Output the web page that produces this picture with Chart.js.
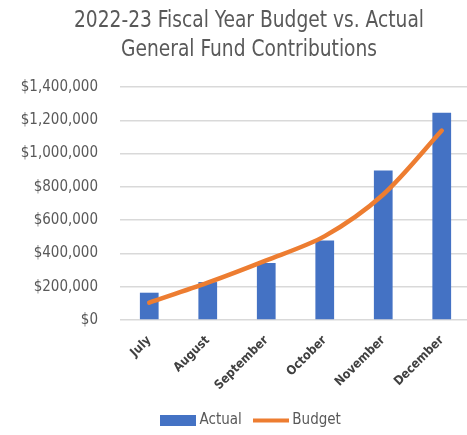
<!DOCTYPE html>
<html>
<head>
<meta charset="utf-8">
<script src="https://cdn.jsdelivr.net/npm/chart.js@4/dist/chart.umd.min.js"></script>
<style>
  body { margin: 0; background: #fff; overflow: hidden; }
  #wrap { width: 467px; height: 435px; overflow: hidden; }
</style>
</head>
<body>
<div id="wrap"><canvas id="chart" width="471" height="435"></canvas></div>
<script>
        // Dados do gráfico
        const months = ['July', 'August', 'September', 'October', 'November', 'December'];
        const actual = [164000, 228000, 342000, 478000, 898000, 1246000];
        const budget = [104000, 224000, 358000, 504000, 754000, 1138000];
        const titleLines = ['2022-23 Fiscal Year Budget vs. Actual', 'General Fund Contributions'];

        const FONT = '"DejaVu Sans Condensed", "DejaVu Sans", sans-serif';
        const BLUE = '#4472C4';
        const ORANGE = '#ED7D31';
        const GRAY = '#595959';

        // Marcadores da legenda
        function legendSwatch(color, h) {
            const c = document.createElement('canvas');
            c.width = 36;
            c.height = 11;
            const g = c.getContext('2d');
            g.fillStyle = color;
            g.fillRect(0, (11 - h) / 2, 36, h);
            return c;
        }
        const swatches = [legendSwatch(BLUE, 11), legendSwatch(ORANGE, 4)];

        // Título estreito (fonte condensada como no original)
        const narrowTitle = {
            id: 'narrowTitle',
            afterDraw(chart) {
                const ctx = chart.ctx;
                ctx.save();
                ctx.fillStyle = GRAY;
                ctx.font = '23px ' + FONT;
                ctx.textAlign = 'center';
                ctx.textBaseline = 'alphabetic';
                const sx = 350 / ctx.measureText(titleLines[0]).width;
                ctx.translate(249, 0);
                ctx.scale(sx, 1);
                ctx.fillText(titleLines[0], 0, 27);
                ctx.fillText(titleLines[1], 0, 56);
                ctx.restore();
            }
        };

        // Legenda: altura fixa e posição como no original
        const legendTweak = {
            id: 'legendTweak',
            beforeLayout(chart) {
                const lg = chart.legend;
                if (lg && !lg._tweaked) {
                    const fit = lg.fit.bind(lg);
                    lg.fit = function () { fit(); this.height = 33; };
                    lg._tweaked = true;
                }
            },
            afterLayout(chart) {
                const lg = chart.legend;
                lg.left += 13; lg.right += 13;
                lg.top = 398; lg.bottom = lg.top + lg.height;
            }
        };

        new Chart(document.getElementById('chart'), {
            type: 'bar',
            data: {
                labels: months,
                datasets: [{
                    label: 'Actual',
                    data: actual,
                    backgroundColor: BLUE,
                    categoryPercentage: 0.64,
                    barPercentage: 0.5,
                    order: 2
                }, {
                    type: 'line',
                    label: 'Budget',
                    data: budget,
                    borderColor: ORANGE,
                    backgroundColor: ORANGE,
                    borderWidth: 4.5,
                    pointRadius: 0,
                    tension: 0.3,
                    borderCapStyle: 'round',
                    order: 1
                }]
            },
            options: {
                responsive: false,
                animation: false,
                layout: { padding: { left: 8, right: 0, top: 87, bottom: 2 } },
                plugins: {
                    title: { display: false },
                    legend: {
                        position: 'bottom',
                        labels: {
                            usePointStyle: true,
                            pointStyleWidth: 28,
                            boxHeight: 11,
                            color: GRAY,
                            padding: 15,
                            font: { family: FONT, size: 15 },
                            generateLabels: (chart) => chart.data.datasets.map((ds, i) => ({
                                text: ds.label,
                                pointStyle: swatches[i],
                                fillStyle: ds.backgroundColor,
                                strokeStyle: ds.backgroundColor,
                                lineWidth: 0,
                                fontColor: GRAY,
                                datasetIndex: i
                            }))
                        }
                    },
                    tooltip: { enabled: false }
                },
                scales: {
                    x: {
                        grid: { display: false },
                        border: { display: false },
                        afterFit: (scale) => { scale.height = 80; },
                        ticks: {
                            color: '#404040',
                            maxRotation: 45,
                            minRotation: 45,
                            padding: 5,
                            font: { family: FONT, size: 12.5, weight: 'bold' }
                        }
                    },
                    y: {
                        min: 0,
                        max: 1400000,
                        border: { display: false },
                        grid: { color: '#d9d9d9', lineWidth: 1.5, drawTicks: false },
                        afterFit: (scale) => { scale.width = 112; },
                        ticks: {
                            stepSize: 200000,
                            color: GRAY,
                            padding: 22,
                            font: { family: FONT, size: 15 },
                            callback: (v) => '$' + v.toLocaleString('en-US')
                        }
                    }
                }
            },
            plugins: [narrowTitle, legendTweak]
        });
</script>
</body>
</html>
